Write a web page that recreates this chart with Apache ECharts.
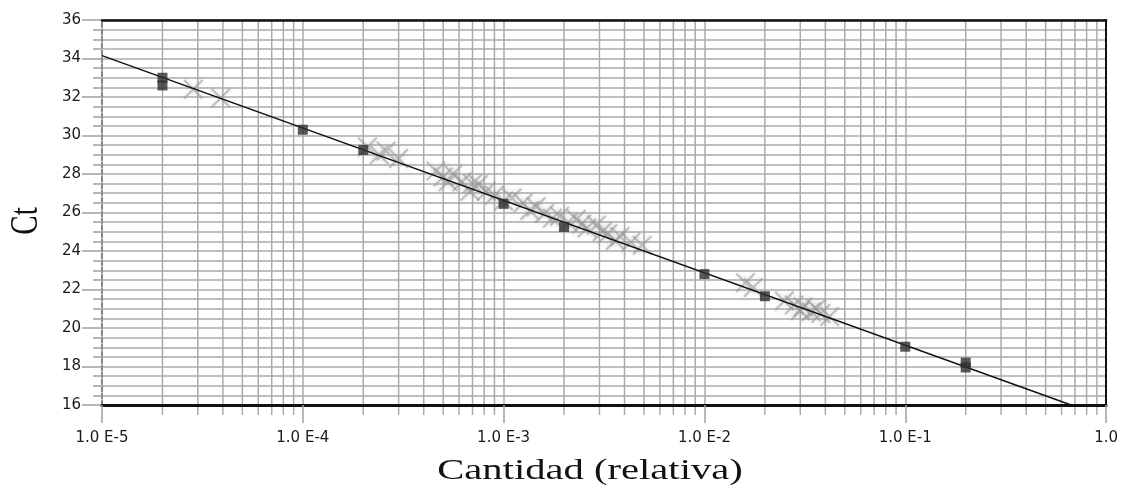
<!DOCTYPE html>
<html>
<head>
<meta charset="utf-8">
<script src="https://cdn.jsdelivr.net/npm/echarts@6/dist/echarts.min.js"></script>
<style>
  html, body { margin: 0; padding: 0; background: #ffffff; }
  #chart { width: 1121px; height: 496px; }
</style>
</head>
<body>
<div id="chart"></div>
<script>
// Standard curve: relative quantity (log scale) vs Ct
const xMin = 1e-5;
const xMax = 1;
const yMin = 16;
const yMax = 36;

// Standards (dilution series)
const standardX = [2e-5, 2e-5, 1e-4, 2e-4, 1e-3, 2e-3, 1e-2, 2e-2, 1e-1, 2e-1, 2e-1];
const standardY = [33.0, 32.6, 30.3, 29.25, 26.45, 25.25, 22.8, 21.65, 19.03, 18.2, 17.95];

// Unknown samples
const sampleX = [
  2.85e-5, 3.9e-5,
  2.1e-4, 2.4e-4, 2.6e-4, 3.0e-4,
  4.6e-4, 5.0e-4, 5.3e-4, 5.6e-4, 6.2e-4, 6.8e-4, 7.0e-4, 7.5e-4, 8.2e-4, 9.0e-4,
  1.0e-3, 1.1e-3, 1.25e-3, 1.35e-3, 1.45e-3, 1.6e-3, 1.75e-3, 1.9e-3, 2.1e-3, 2.3e-3,
  2.45e-3, 2.6e-3, 2.9e-3, 3.1e-3, 3.3e-3, 3.6e-3, 3.8e-3, 4.3e-3, 4.9e-3,
  1.6e-2, 1.75e-2, 2.5e-2, 2.8e-2, 3.0e-2, 3.1e-2, 3.4e-2, 3.6e-2, 3.8e-2, 4.2e-2
];
const sampleY = [
  32.4, 31.95,
  29.4, 29.0, 29.2, 28.8,
  28.15, 27.85, 27.6, 28.0, 27.6, 27.1, 27.5, 27.45, 27.1, 26.9,
  26.6, 26.75, 26.5, 26.1, 26.3, 25.95, 25.7, 25.8, 25.5, 25.65,
  25.4, 25.2, 25.35, 25.0, 24.9, 24.55, 24.75, 24.45, 24.3,
  22.35, 22.1, 21.4, 21.2, 20.9, 21.1, 20.85, 21.0, 20.75, 20.6
];

// Fitted regression line end points
const fitX = [1e-5, 0.67];
const fitY = [34.15, 16.0];

// Minor grid values (2..9 within each decade)
const minorGrid = [];
for (let e = -5; e < 0; e++) {
  for (let m = 2; m <= 9; m++) {
    minorGrid.push([m * Math.pow(10, e), yMin]);
  }
}

const gridColor = '#ababab';
const crossPath = 'path://M1.5,0 L10,8.5 L18.5,0 L20,1.5 L11.5,10 L20,18.5 L18.5,20 L10,11.5 L1.5,20 L0,18.5 L8.5,10 L0,1.5 Z';

const chart = echarts.init(document.getElementById('chart'), null, { renderer: 'canvas' });

const option = {
  backgroundColor: '#ffffff',
  animation: false,
  grid: { left: 102, right: 14, top: 20, bottom: 91, containLabel: false },
  xAxis: [
    {
      type: 'log',
      logBase: 10,
      min: xMin,
      max: xMax,
      position: 'bottom',
      z: 4,
      axisLine: { show: true, lineStyle: { color: '#111', width: 3 } },
      axisTick: { show: true, length: 18, lineStyle: { color: '#a0a0a0', width: 1.5 } },
      axisLabel: {
        margin: 26,
        color: '#1a1a1a',
        fontFamily: 'DejaVu Sans',
        fontSize: 15,
        formatter: function (v) {
          const e = Math.round(Math.log10(v));
          return e === 0 ? '1.0' : '1.0 E' + e;
        }
      },
      splitLine: { show: true, lineStyle: { color: gridColor, width: 1.5 } }
    },
    {
      type: 'log',
      logBase: 10,
      min: xMin,
      max: xMax,
      position: 'top',
      z: 4,
      axisLine: { show: true, lineStyle: { color: '#111', width: 2.5 } },
      axisTick: { show: false },
      axisLabel: { show: false },
      splitLine: { show: false }
    }
  ],
  yAxis: [
    {
      type: 'value',
      min: yMin,
      max: yMax,
      interval: 2,
      position: 'left',
      z: 3,
      axisLine: { show: true, lineStyle: { color: '#111', width: 2, type: [4, 3] } },
      axisTick: { show: true, length: 20, lineStyle: { color: '#a0a0a0', width: 1.5 } },
      minorTick: { show: true, splitNumber: 4, length: 9, lineStyle: { color: '#a0a0a0', width: 1.5 } },
      axisLabel: {
        margin: 21,
        color: '#1a1a1a',
        fontFamily: 'DejaVu Sans',
        fontSize: 15
      },
      splitLine: { show: true, lineStyle: { color: gridColor, width: 1.5 } },
      minorSplitLine: { show: true, lineStyle: { color: gridColor, width: 1.5 } }
    },
    {
      type: 'value',
      min: yMin,
      max: yMax,
      interval: 2,
      position: 'right',
      z: 4,
      axisLine: { show: true, lineStyle: { color: '#111', width: 2 } },
      axisTick: { show: false },
      axisLabel: { show: false },
      splitLine: { show: false }
    }
  ],
  graphic: [
    {
      type: 'text',
      x: 590,
      y: 471,
      scaleX: 1.4,
      silent: true,
      style: {
        text: 'Cantidad (relativa)',
        font: '29px "Liberation Serif"',
        fill: '#111',
        textAlign: 'center',
        textVerticalAlign: 'middle'
      }
    },
    {
      type: 'text',
      x: 26,
      y: 221,
      rotation: Math.PI / 2,
      scaleY: 1.4,
      silent: true,
      style: {
        text: 'Ct',
        font: '29px "Liberation Serif"',
        fill: '#111',
        textAlign: 'center',
        textVerticalAlign: 'middle'
      }
    }
  ],
  series: [
    {
      // minor vertical grid lines with their short ticks below the axis
      type: 'custom',
      xAxisIndex: 0,
      yAxisIndex: 0,
      z: 1,
      silent: true,
      clip: false,
      data: minorGrid,
      encode: { x: 0, y: 1 },
      renderItem: function (params, api) {
        const v = api.value(0);
        const top = api.coord([v, yMax]);
        const bot = api.coord([v, yMin]);
        return {
          type: 'line',
          shape: { x1: top[0], y1: top[1], x2: bot[0], y2: bot[1] + 10 },
          style: { stroke: gridColor, lineWidth: 1.5 }
        };
      }
    },
    {
      name: 'Muestras',
      type: 'scatter',
      xAxisIndex: 0,
      yAxisIndex: 0,
      z: 5,
      symbol: crossPath,
      symbolSize: 20,
      itemStyle: {
        color: 'rgba(150,150,150,0.7)',
        shadowBlur: 5,
        shadowColor: 'rgba(160,160,160,0.6)'
      },
      data: sampleX.map((x, i) => [x, sampleY[i]])
    },
    {
      name: 'Ajuste',
      type: 'line',
      xAxisIndex: 0,
      yAxisIndex: 0,
      z: 6,
      symbol: 'none',
      lineStyle: { color: '#111', width: 1.5 },
      data: fitX.map((x, i) => [x, fitY[i]])
    },
    {
      name: 'Estándares',
      type: 'scatter',
      xAxisIndex: 0,
      yAxisIndex: 0,
      z: 7,
      symbol: 'rect',
      symbolSize: 10,
      itemStyle: { color: '#2e2e2e' },
      data: standardX.map((x, i) => [x, standardY[i]])
    }
  ]
};

chart.setOption(option);
</script>
</body>
</html>
